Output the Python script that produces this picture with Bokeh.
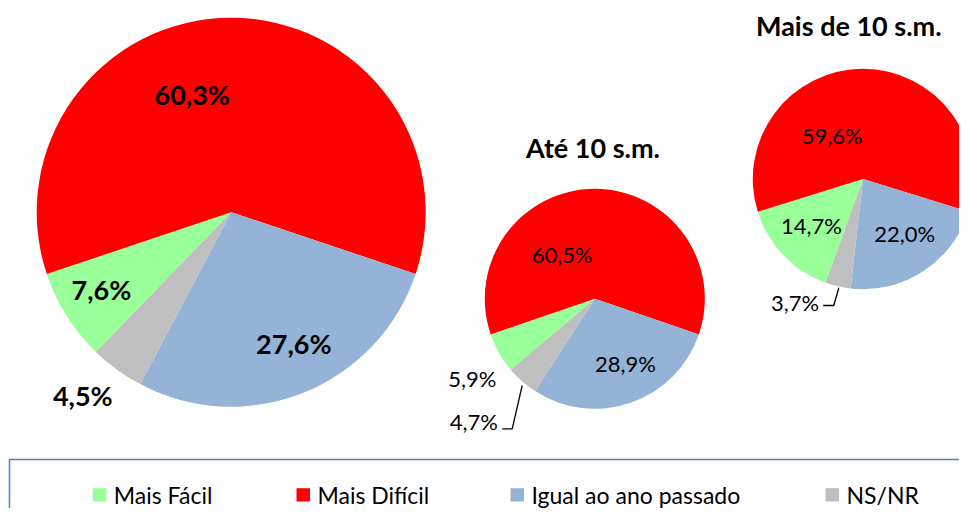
from bokeh.plotting import figure
from bokeh.models import Range1d, ColumnDataSource
from bokeh.core.properties import value
from bokeh.embed import file_html
from bokeh.resources import INLINE
import numpy as np

# ---------------- data ----------------
categories = ["Mais Fácil", "Mais Difícil", "Igual ao ano passado", "NS/NR"]
total = [7.6, 60.3, 27.6, 4.5]
ate10 = [5.9, 60.5, 28.9, 4.7]
mais10 = [14.7, 59.6, 22.0, 3.7]
titles = ["", "Até 10 s.m.", "Mais de 10 s.m."]

# ---------------- style / layout ----------------
colors = ["#99FF99", "#FF0000", "#95B3D7", "#BFBFBF"]
FONT = "Lato"
W, H = 959, 508


def fx(X):  # picture pixel -> data x
    return X


def fy(Y):  # picture pixel -> data y
    return H - Y


pies = [
    dict(values=total, cx=230.7, cy=211.7, r=194.5, bold=True, size="27px",
         # label offsets (dx, dy) in px from pie centre, one per category
         offs=[(-129.7, 77.6), (-39.0, -117.4), (62.6, 131.6), (-148.4, 183.3)],
         leader=None, title_pos=None),
    dict(values=ate10, cx=594.3, cy=298.3, r=110.0, bold=False, size="22px",
         offs=[(-122.6, 79.7), (-32.6, -44.3), (30.7, 65.0), (-121.0, 122.5)],
         leader=[(-92.6, 130.0), (-82.6, 130.0), (-72.6, 86.7)],
         title_pos=(592.5, 147.0)),
    dict(values=mais10, cx=862.5, cy=178.5, r=110.2, bold=False, size="22px",
         offs=[(-51.5, 46.5), (-30.8, -43.5), (41.8, 54.8), (-68.0, 123.2)],
         leader=[(-39.8, 126.5), (-29.2, 126.5), (-24.2, 108.8)],
         title_pos=(848.3, 25.0)),
]

p = figure(width=W, height=H, x_range=Range1d(0, W), y_range=Range1d(0, H),
           x_axis_type=None, y_axis_type=None, toolbar_location=None,
           output_backend="svg", min_border=0)
p.grid.visible = False
p.outline_line_color = None
p.background_fill_color = "white"
p.border_fill_color = "white"

for i, pie in enumerate(pies):
    vals = np.array(pie["values"], dtype=float)
    frac = vals / vals.sum()
    # red slice centred at the top, slices clockwise
    start_compass = -(frac[0] + frac[1] / 2) * 360.0
    cum = np.concatenate([[0], np.cumsum(frac)]) * 360.0
    comp_start = start_compass + cum[:-1]
    comp_end = start_compass + cum[1:]
    src = ColumnDataSource(dict(
        x=[fx(pie["cx"])] * 4, y=[fy(pie["cy"])] * 4,
        start=np.radians(90 - comp_start), end=np.radians(90 - comp_end),
        color=colors, cat=categories))
    p.wedge(x="x", y="y", radius=pie["r"], start_angle="start", end_angle="end",
            direction="clock", fill_color="color", line_color=None, source=src)

    labels = [("%.1f" % v).replace(".", ",") + "%" for v in pie["values"]]
    lx = [fx(pie["cx"] + o[0]) for o in pie["offs"]]
    ly = [fy(pie["cy"] + o[1]) for o in pie["offs"]]
    p.text(x=lx, y=ly, text=labels, text_align="center", text_baseline="middle",
           text_font=value(FONT), text_font_size=pie["size"],
           text_font_style="bold" if pie["bold"] else "normal", text_color="black")

    if pie["leader"]:
        p.line(x=[fx(pie["cx"] + a) for a, b in pie["leader"]],
               y=[fy(pie["cy"] + b) for a, b in pie["leader"]],
               line_color="black", line_width=1.3)

    if pie["title_pos"] and titles[i]:
        p.text(x=[fx(pie["title_pos"][0])], y=[fy(pie["title_pos"][1])], text=[titles[i]],
               text_align="center", text_baseline="middle", text_font=value(FONT),
               text_font_size="27px", text_font_style="bold", text_color="black")

# ---------------- legend ----------------
p.quad(left=[fx(9)], right=[fx(1000)], top=[fy(459)], bottom=[fy(560)],
       fill_color=None, line_color="#4F81BD", line_width=1.5)
legend_x = [92.3, 296.0, 510.0, 825.0]
p.quad(left=[fx(x) for x in legend_x], right=[fx(x + 13.5) for x in legend_x],
       top=[fy(487.7)] * 4, bottom=[fy(501.0)] * 4, fill_color=colors, line_color=None)
p.text(x=[fx(x + 21) for x in legend_x], y=[fy(494.5)] * 4, text=categories,
       text_align="left", text_baseline="middle", text_font=value(FONT),
       text_font_size="23px", text_color="black")

open("out.html", "w").write(file_html(p, INLINE))
